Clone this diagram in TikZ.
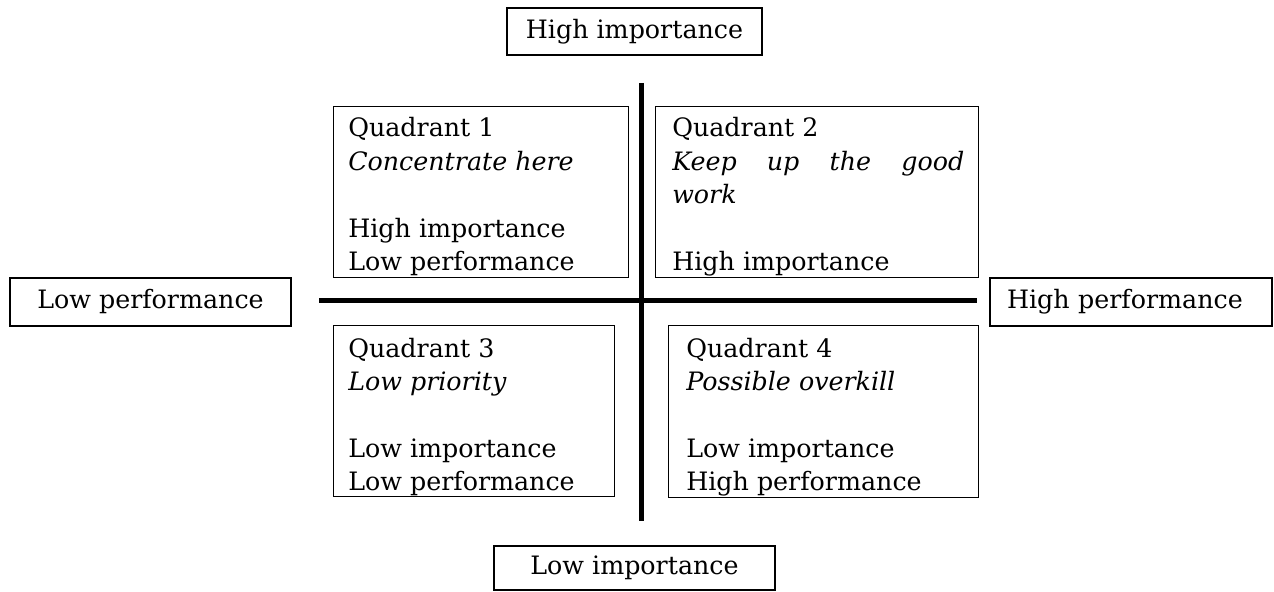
\documentclass[tikz,border=0pt]{standalone}
\usepackage{fontspec}
\setmainfont{DejaVu Serif}
\usetikzlibrary{calc}
\newcommand{\txtfont}{\fontsize{19}{25.1}\selectfont}
\begin{document}
\begin{tikzpicture}[x=0.75pt,y=-0.75pt,
  lbl/.style={draw,line width=1pt,inner sep=0pt,font=\txtfont},
  qbox/.style={draw,line width=1pt,anchor=north west,inner sep=0pt},
  qtext/.style={anchor=base west,inner sep=0pt,font=\txtfont},
  axis/.style={line width=3.75pt}]
\useasboundingbox (0,0) rectangle (1274,592);
% axis labels
\node[lbl,minimum width=255*0.75pt,minimum height=47*0.75pt] (hi) at (634.5,31.5) {High importance};
\node[lbl,minimum width=281*0.75pt,minimum height=44*0.75pt] (li) at (634.5,568) {Low importance};
\node[lbl,minimum width=281*0.75pt,minimum height=48*0.75pt] (lp) at (150.5,302) {Low performance};
\node[lbl,inner xsep=17*0.75pt,text width=248*0.75pt,align=left,minimum height=48*0.75pt] (hp) at (1131,302) {High performance};
% axes
\coordinate (vt) at (641,83);
\coordinate (vb) at (641,521);
\coordinate (hl) at (319,300);
\coordinate (hr) at (977,300);
\draw[axis] (vt) -- (vb);
\draw[axis] (hl) -- (hr);
% quadrant boxes
\node[qbox,minimum width=295*0.75pt,minimum height=171*0.75pt] (q1) at (333,106) {};
\node[qbox,minimum width=323*0.75pt,minimum height=171*0.75pt] (q2) at (655,106) {};
\node[qbox,minimum width=281*0.75pt,minimum height=171*0.75pt] (q3) at (333,325) {};
\node[qbox,minimum width=310*0.75pt,minimum height=172*0.75pt] (q4) at (668,325) {};
\begin{scope}
\clip (q1.south west) rectangle (q1.north east);
\node[qtext] (t1) at (348,137) {\parbox[t]{280pt}{Quadrant 1\\\textit{Concentrate here}\\[25.1pt]High importance\\Low performance}};
\end{scope}
\begin{scope}
\clip (q2.south west) rectangle (q2.north east);
\node[qtext] (t2) at (672,137) {\parbox[t]{219pt}{Quadrant 2\\\makebox[219pt][s]{\itshape Keep up the good}\\\textit{work}\\[25.1pt]High importance}};
\end{scope}
\begin{scope}
\clip (q3.south west) rectangle (q3.north east);
\node[qtext] (t3) at (348,357) {\parbox[t]{280pt}{Quadrant 3\\\textit{Low priority}\\[25.1pt]Low importance\\Low performance}};
\end{scope}
\begin{scope}
\clip (q4.south west) rectangle (q4.north east);
\node[qtext] (t4) at (686,357) {\parbox[t]{280pt}{Quadrant 4\\\textit{Possible overkill}\\[25.1pt]Low importance\\High performance}};
\end{scope}
\end{tikzpicture}
\end{document}
